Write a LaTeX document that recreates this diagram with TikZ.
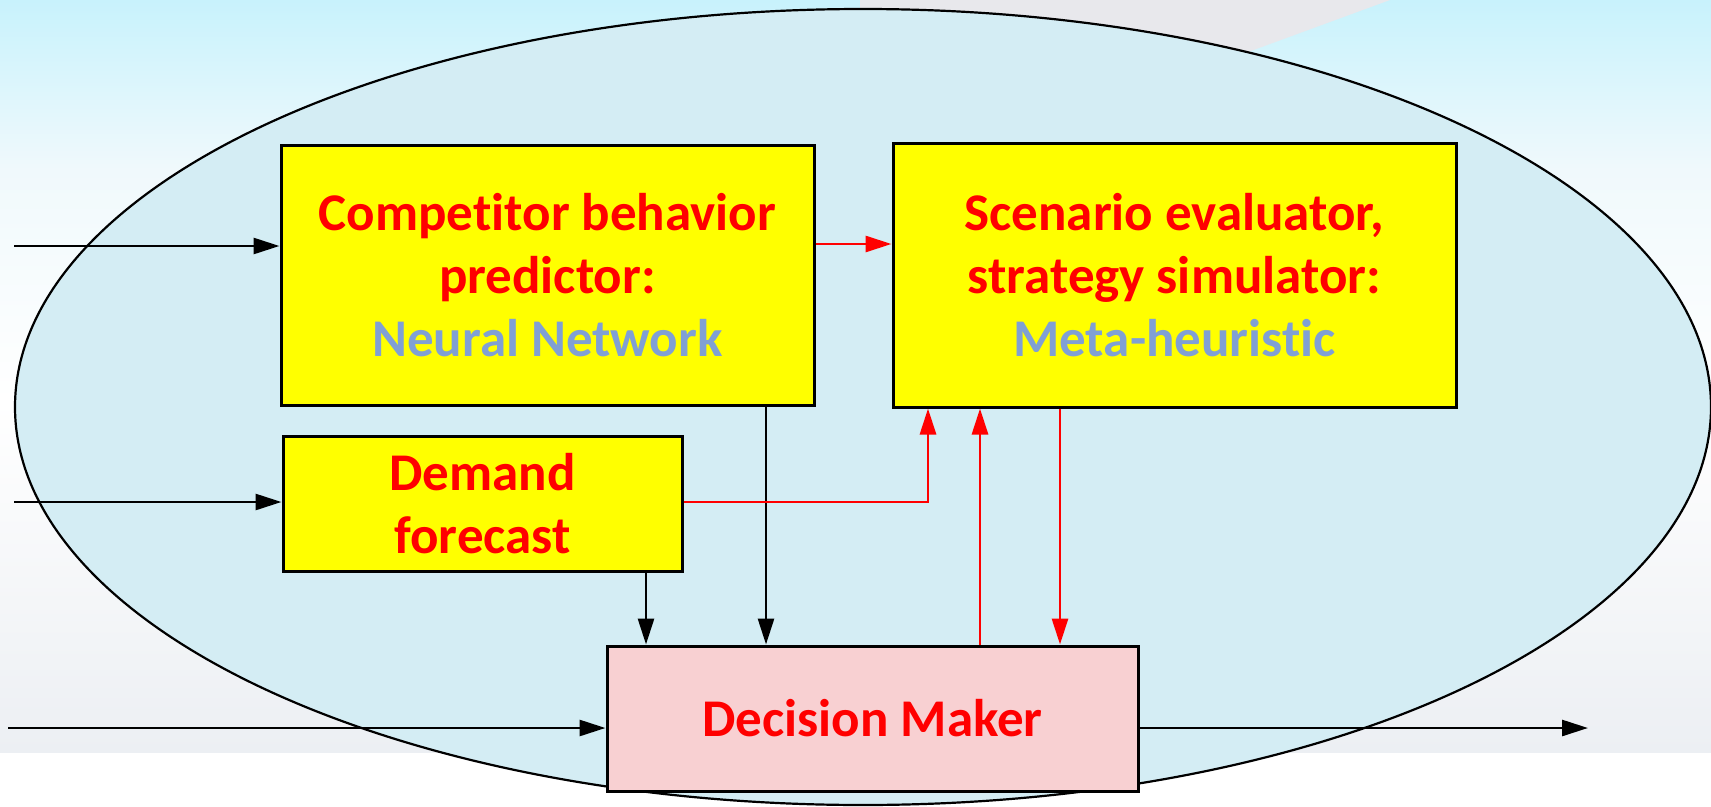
\documentclass[tikz,border=0pt]{standalone}
\usepackage{fontspec}
\setmainfont{Carlito}[RawFeature=-liga]
\usetikzlibrary{arrows.meta}
\definecolor{skytop}{RGB}{200,242,252}
\definecolor{skymid}{RGB}{240,249,252}
\definecolor{sea}{RGB}{236,239,243}
\definecolor{wing}{RGB}{232,232,236}
\definecolor{ellfill}{RGB}{212,237,244}
\definecolor{boxyellow}{RGB}{255,255,0}
\definecolor{boxpink}{RGB}{248,208,210}
\definecolor{txtred}{RGB}{255,0,0}
\definecolor{txtblue}{RGB}{128,160,212}
\tikzset{
  box/.style={draw=black, line width=3pt, fill=boxyellow, align=center, inner sep=0pt,
    font=\bfseries\fontsize{53}{63}\selectfont, text=txtred},
  dmbox/.style={box, fill=boxpink},
  blk/.style={draw=black, line width=2.7pt, -{Triangle[length=26pt,width=16pt]}},
  redarr/.style={draw=txtred, line width=2.8pt, -{Triangle[length=26pt,width=16pt]}},
}
\begin{document}
\begin{tikzpicture}[x=1pt,y=-1pt]
\useasboundingbox (0,0) rectangle (1711,806);
% background
\fill[top color=skytop, bottom color=skymid] (0,0) rectangle (1711,170);
\fill[top color=skymid, bottom color=white] (0,170) rectangle (1711,400);
\fill[top color=white, bottom color=sea] (0,400) rectangle (1711,753);
\fill[white] (0,753) rectangle (1711,806);
\fill[wing] (860,0) -- (1390,0) -- (1240,55) -- (860,55) -- cycle;
% ellipse
\draw[line width=2.2pt, fill=ellfill] (863,407) ellipse [x radius=848pt, y radius=398pt];
% boxes
\node[box, minimum width=533pt, minimum height=260pt] (comp) at (547.5,275)
  {Competitor behavior\\predictor:\\\textcolor{txtblue}{Neural Network}};
\node[box, minimum width=563pt, minimum height=264pt] (scen) at (1174.5,275)
  {Scenario evaluator,\\strategy simulator:\\\textcolor{txtblue}{Meta-heuristic}};
\node[box, minimum width=399pt, minimum height=135pt] (dem) at (482.5,503.5)
  {Demand\\forecast};
\node[dmbox, minimum width=531pt, minimum height=145pt] (dm) at (872.5,718.5)
  {Decision Maker};
% free ends
\coordinate (in1) at (14,246);
\coordinate (in2) at (14,502);
\coordinate (in3) at (8,728);
\coordinate (out) at (1588,728);
\coordinate (bend) at (928,502);
% connectors
\draw[blk] (in1) -- (in1 -| comp.west);
\draw[blk] (in2) -- (in2 -| dem.west);
\draw[blk] (in3) -- (in3 -| dm.west);
\draw[blk] (out -| dm.east) -- (out);
\draw[redarr] (comp.east |- 0,244) -- (scen.west |- 0,244);
\draw[blk] (766,0 |- comp.south) -- (766,0 |- dm.north);
\draw[blk] (646,0 |- dem.south) -- (646,0 |- dm.north);
\draw[redarr] (dem.east |- bend) -- (bend) -- (bend |- scen.south);
\draw[redarr] (980,0 |- dm.north) -- (980,0 |- scen.south);
\draw[redarr] (1060,0 |- scen.south) -- (1060,0 |- dm.north);
\end{tikzpicture}
\end{document}
